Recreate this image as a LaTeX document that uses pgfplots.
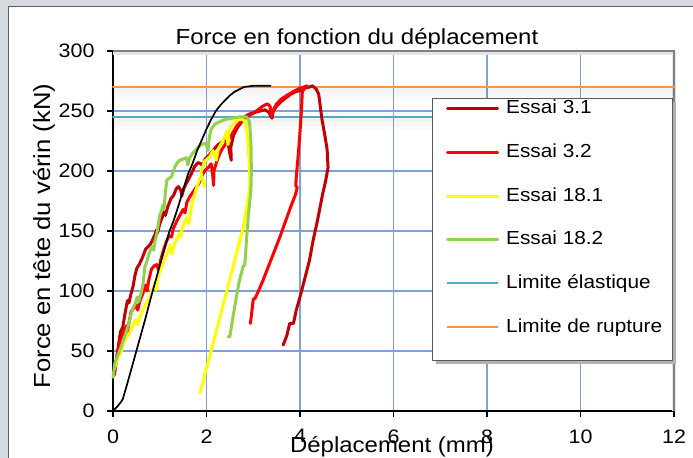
\documentclass[border=0pt]{standalone}
\usepackage{pgfplots}
\pgfplotsset{compat=1.18}
\usepackage{fontspec}
\setmainfont{Liberation Sans}[FakeStretch=1.1]
\definecolor{bggray}{HTML}{D5DAE0}
\definecolor{framegray}{HTML}{5E5E5E}
\definecolor{gridblue}{HTML}{7EA0D2}
\definecolor{darkred}{HTML}{C00000}
\definecolor{brightred}{HTML}{FF0000}
\definecolor{yel}{HTML}{FFFF00}
\definecolor{grn}{HTML}{92D050}
\definecolor{limcyan}{HTML}{4BACC6}
\definecolor{limorange}{HTML}{F79646}
\begin{document}
\begin{tikzpicture}
\useasboundingbox (0,0) rectangle (693bp,458bp);
\fill[bggray] (0,0) rectangle (693bp,458bp);
\fill[white] (8bp,0) rectangle (693bp,452bp);
\draw[framegray, line width=1.5bp] (8.5bp,0) -- (8.5bp,451.5bp) -- (693bp,451.5bp);
\begin{axis}[
  at={(113bp,47bp)}, anchor=south west,
  scale only axis, width=561bp, height=360bp,
  xmin=0, xmax=12, ymin=0, ymax=300,
  xtick={0,2,...,12}, ytick={0,50,...,300},
  grid=major, major grid style={gridblue, line width=1.1bp},
  axis lines*=left, axis line style={black, line width=1.8bp, -},
  tick align=outside, major tick length=6bp, tick style={black, line width=1.2bp},
  /pgf/number format/assume math mode=true,
  ticklabel style={font=\fontsize{19.5bp}{22bp}\selectfont},
  xticklabel style={yshift=-9bp},
  yticklabel style={xshift=-9bp},
  clip=false,
  legend cell align=left,
  legend image code/.code={\draw[#1] (0bp,0bp) -- (50bp,0bp);},
  legend style={draw=none, fill=none, at={(rel axis cs:0.5936,0.8653)}, anchor=north west,
    font=\fontsize{18.9bp}{20bp}\selectfont, row sep=25.7bp, inner sep=0pt,
    nodes={inner sep=0pt, text height=14bp, text depth=4bp},
    /tikz/every odd column/.append style={column sep=7bp}},
  every axis plot/.append style={line join=round, line cap=round},
]
% plot area top/right border with shadow
\draw[black!10, line width=4bp] (rel axis cs:0,1) ++(0,-2.5bp) -- ++(561bp,0) -- ++(0,-357.5bp);
\draw[black!50, line width=1.6bp] (rel axis cs:0,1) -- (rel axis cs:1,1) -- (rel axis cs:1,0);
% soft shadows of the limit lines
\addplot[forget plot, draw=black, opacity=0.05, line width=4bp] coordinates {(0,267.5) (12,267.5)};
\addplot[forget plot, draw=black, opacity=0.035, line width=4bp] coordinates {(0,264.2) (12,264.2)};
\addplot[forget plot, draw=black, opacity=0.02, line width=4bp] coordinates {(0,260.9) (12,260.9)};
\addplot[forget plot, draw=black, opacity=0.05, line width=4bp] coordinates {(0,242.5) (12,242.5)};
\addplot[forget plot, draw=black, opacity=0.035, line width=4bp] coordinates {(0,239.2) (12,239.2)};
\addplot[forget plot, draw=black, opacity=0.02, line width=4bp] coordinates {(0,235.9) (12,235.9)};
\addplot[forget plot, limorange, line width=2bp] coordinates {(0,270) (12,270)};
\addplot[forget plot, limcyan, line width=2bp] coordinates {(0,245) (12,245)};
% Essai 3.1
\addplot[darkred, line width=3bp] coordinates {
(0.03,30) (0.08,45) (0.13,58) (0.16,66) (0.21,70) (0.26,82) (0.31,92) (0.34,90) (0.38,97)
(0.43,104) (0.47,113) (0.51,119) (0.56,122) (0.62,127) (0.66,131) (0.70,135) (0.75,137)
(0.80,139) (0.85,143) (0.90,147) (0.93,151) (0.95,148) (1.00,156) (1.05,161) (1.09,166)
(1.12,163) (1.17,170) (1.24,177) (1.30,180) (1.35,185) (1.40,187) (1.45,184) (1.47,179)
(1.52,186) (1.60,192) (1.68,198) (1.75,204) (1.82,207) (1.88,206) (1.92,204) (1.97,210)
(2.05,213) (2.12,216) (2.18,219) (2.25,222) (2.32,224) (2.40,227) (2.46,224) (2.50,214)
(2.53,209) (2.52,220) (2.58,230) (2.66,236) (2.75,241) (2.85,246) (2.95,248) (3.05,249)
(3.15,250) (3.25,251) (3.33,249) (3.40,244) (3.43,250) (3.50,254) (3.60,258) (3.70,261)
(3.80,264) (3.90,266) (4.00,267) (4.10,269) (4.20,270) (4.27,271) (4.35,268) (4.40,264)
(4.43,255) (4.47,243) (4.53,230) (4.58,218) (4.60,203) (4.55,192) (4.48,180) (4.38,160)
(4.28,142) (4.20,125) (4.10,110) (4.00,95) (3.92,84) (3.86,73) (3.78,73) (3.72,63) (3.64,55)
};
\addlegendentry{Essai 3.1}
% Essai 3.2
\addplot[brightred, line width=3bp] coordinates {
(0.03,32) (0.08,44) (0.12,53) (0.17,60) (0.21,63) (0.25,68) (0.29,71) (0.31,66) (0.34,73)
(0.39,83) (0.45,86) (0.50,88) (0.53,84) (0.57,91) (0.64,98) (0.70,105) (0.73,100) (0.76,108)
(0.82,118) (0.88,121) (0.93,122) (0.98,117) (1.02,126) (1.08,134) (1.14,141) (1.20,146)
(1.25,145) (1.29,152) (1.36,158) (1.43,163) (1.50,168) (1.54,165) (1.58,174) (1.65,179)
(1.72,183) (1.79,187) (1.84,190) (1.88,194) (1.93,198) (1.98,201) (2.04,203) (2.10,206)
(2.13,198) (2.15,188) (2.16,200) (2.22,208) (2.28,214) (2.33,218) (2.40,222) (2.46,226)
(2.52,229) (2.58,233) (2.64,237) (2.72,241) (2.80,244) (2.90,246) (3.00,248) (3.10,251)
(3.20,254) (3.30,256) (3.36,254) (3.39,245) (3.42,250) (3.50,256) (3.60,260) (3.72,263)
(3.85,266) (4.00,269) (4.08,270) (4.15,271) (4.10,269) (4.05,266) (4.03,250) (4.01,238)
(3.98,222) (3.95,208) (3.92,195) (3.91,188) (3.94,186) (3.90,180) (3.80,170) (3.68,157)
(3.57,145) (3.45,133) (3.33,121) (3.21,109) (3.10,99) (3.04,94) (3.00,93) (2.97,83) (2.94,73)
};
\addlegendentry{Essai 3.2}
% Essai 18.1
\addplot[yel, line width=3bp] coordinates {
(0.03,35) (0.08,42) (0.13,46) (0.18,50) (0.22,56) (0.27,60) (0.33,63) (0.38,67) (0.44,73)
(0.49,76) (0.53,72) (0.57,78) (0.63,83) (0.70,89) (0.76,93) (0.82,98) (0.87,104) (0.91,108)
(0.93,101) (0.95,110) (1.00,116) (1.06,122) (1.12,128) (1.18,133) (1.22,138) (1.26,131)
(1.30,138) (1.36,143) (1.42,148) (1.45,145) (1.48,152) (1.53,158) (1.58,161) (1.62,156)
(1.66,166) (1.71,176) (1.76,182) (1.81,189) (1.86,194) (1.92,194) (1.96,187) (1.88,199)
(1.96,208) (2.07,212) (2.14,217) (2.18,213) (2.21,209) (2.25,218) (2.30,222) (2.39,228)
(2.43,233) (2.46,222) (2.48,233) (2.54,238) (2.62,241) (2.70,243) (2.78,243) (2.84,240)
(2.88,228) (2.91,210) (2.93,190) (2.90,178) (2.84,165) (2.78,152) (2.50,110) (2.20,65) (1.86,15)
};
\addlegendentry{Essai 18.1}
% Essai 18.2
\addplot[grn, line width=3bp] coordinates {
(0.00,28) (0.04,40) (0.09,45) (0.14,50) (0.18,54) (0.22,59) (0.26,63) (0.30,68) (0.34,73)
(0.38,80) (0.43,86) (0.48,90) (0.52,95) (0.55,91) (0.60,98) (0.64,105) (0.66,112) (0.68,120)
(0.72,124) (0.76,130) (0.80,134) (0.84,137) (0.87,134) (0.90,142) (0.94,148) (0.97,156)
(1.00,163) (1.04,167) (1.07,172) (1.09,168) (1.12,182) (1.15,192) (1.20,194) (1.25,195)
(1.29,200) (1.33,204) (1.38,207) (1.43,209) (1.50,210) (1.57,211) (1.60,205) (1.64,211)
(1.71,215) (1.80,219) (1.89,222) (1.96,223) (2.00,222) (2.03,217) (2.06,228) (2.10,235)
(2.18,239) (2.28,241) (2.40,243) (2.55,244) (2.70,245) (2.86,245) (2.92,241) (2.95,225)
(2.96,200) (2.95,184) (2.90,165) (2.86,145) (2.83,128) (2.82,122) (2.78,120) (2.70,108)
(2.64,95) (2.56,77) (2.50,62) (2.46,62)
};
\addlegendentry{Essai 18.2}
% black reference curve
\addplot[forget plot, black, line width=1.7bp] coordinates {
(0,0) (0.05,2) (0.10,4) (0.14,6) (0.18,8) (0.21,10) (0.30,22) (0.40,36) (0.50,50) (0.60,64)
(0.70,78) (0.80,93) (0.90,107) (1.00,121) (1.10,135) (1.20,149) (1.30,159) (1.40,171)
(1.50,184) (1.60,197) (1.70,206) (1.80,217) (1.90,226) (2.00,235) (2.10,243) (2.20,250)
(2.30,255) (2.40,259) (2.50,263) (2.60,266) (2.70,268) (2.80,270) (2.90,270.5) (3.00,271) (3.37,271)
};
\addlegendimage{limcyan, line width=2bp}
\addlegendentry{Limite élastique}
\addlegendimage{limorange, line width=2bp}
\addlegendentry{Limite de rupture}
% legend box
\fill[black!30] ([xshift=3bp,yshift=-3bp]axis cs:6.84,260) rectangle ([xshift=3bp,yshift=-3bp]axis cs:11.97,41.7);
\draw[black!65, fill=white, line width=1bp] (axis cs:6.84,260) rectangle (axis cs:11.97,41.7);
\end{axis}
\node[anchor=base, font=\fontsize{21.8bp}{24bp}\selectfont] at (357bp,413bp) {Force en fonction du déplacement};
\node[anchor=base, font=\fontsize{21.8bp}{24bp}\selectfont] at (392bp,6bp) {Déplacement (mm)};
\node[rotate=90, anchor=base, font=\fontsize{23.3bp}{26bp}\selectfont] at (50bp,222bp) {Force en tête du vérin (kN)};
\end{tikzpicture}
\end{document}
